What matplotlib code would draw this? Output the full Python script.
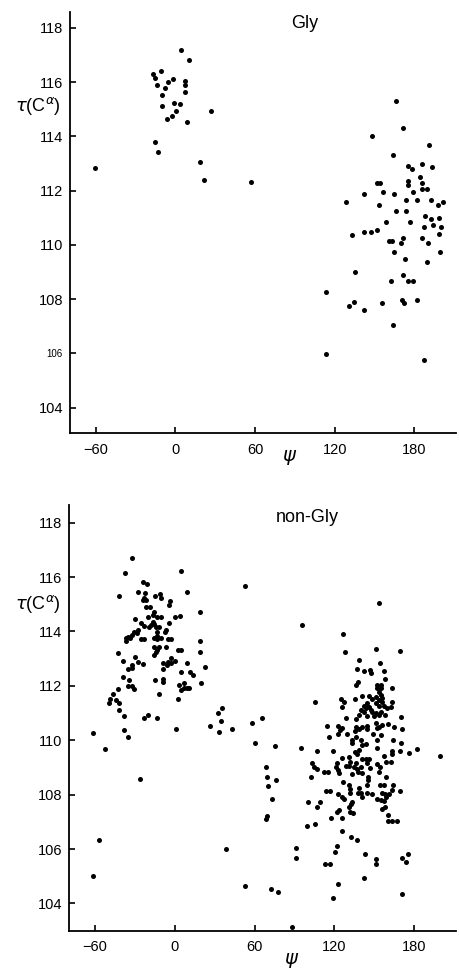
import matplotlib
matplotlib.use("Agg")
import matplotlib.pyplot as plt

plt.rcParams['font.family'] = ['Liberation Sans', 'DejaVu Sans']

# ---------------- data ----------------
psi_ticks = [-60, 0, 60, 120, 180]
tau_ticks = [104, 106, 108, 110, 112, 114, 116, 118]

gly = [(-60.7,112.85),(4.3,117.2),(10.5,116.82),(-16.6,116.3),(-15.3,116.15),(-10.5,116.42),(-14.0,115.9),
       (-7.8,115.8),(-5.7,115.99),(-1.5,116.13),(7.3,116.03),(7.3,115.9),(7.5,115.64),(-10.3,115.51),(-9.8,115.14),
       (-1.0,115.24),(3.5,115.21),(0.3,114.95),(-2.7,114.75),(-6.5,114.64),(9.0,114.55),(26.9,114.93),(-15.1,113.81),
       (-13.3,113.44),(18.6,113.05),(21.4,112.40),
       (56.8,112.32),(166.0,115.31),(171.5,114.31),(148.1,114.01),(191.0,113.70),(163.9,113.31),(175.0,112.92),
       (178.2,112.80),(186.0,113.0),(193.3,112.89),(151.6,112.30),(154.4,112.30),(175.0,112.36),(175.0,112.21),
       (184.3,112.50),(186.0,112.27),(186.0,112.06),(189.5,112.06),(179.2,111.95),(156.2,111.96),(142.1,111.86),
       (164.9,111.86),(128.8,111.57),(153.2,111.48),(173.7,111.66),(181.8,111.66),(192.8,111.66),(197.8,111.48),
       (201.8,111.57),(166.4,111.26),(173.7,111.26),(187.8,111.08),(192.3,110.95),(198.8,110.98),(177.0,110.85),
       (158.4,110.85),(187.3,110.66),(194.3,110.74),(199.8,110.66),(198.3,110.39),(133.1,110.36),(141.9,110.48),
       (147.6,110.46),(151.9,110.56),
       (160.7,110.15),(163.4,110.15),(169.7,110.07),(171.7,110.24),(186.0,110.24),(190.5,110.07),(199.3,109.74),
       (164.5,109.75),(172.7,109.48),(189.7,109.37),(135.5,108.99),(162.7,108.65),(171.7,108.88),(175.5,108.66),
       (178.8,108.66),(113.7,108.28),(131.0,107.75),(134.6,107.89),(142.1,107.58),(155.6,107.85),(170.5,107.97),
       (172.4,107.86),(182.2,107.95),(164.2,107.05),(113.7,105.98),(187.0,105.76)]
gly_psi = [p for p, t in gly]
gly_tau = [t for p, t in gly]

nongly = [
    (-32.5,116.71),(-37.5,116.14),(4.6,116.23),(-24.2,115.83),(-20.9,115.75),(-41.7,115.32),(-27.5,115.44),
    (-22.4,115.43),(9.5,115.45),(-14.7,115.32),(-11.0,115.37),(-10.4,115.22),(-23.0,115.22),(-21.7,115.16),
    (-24.2,115.16),(-3.5,115.12),(-4.2,114.97),(-21.7,114.91),(-18.5,114.91),(19.1,114.73),(-15.5,114.70),
    (-16.4,114.61),(-20.0,114.54),(-13.4,114.52),(-10.0,114.52),(0.1,114.53),(4.1,114.56),(-30.0,114.45),
    (-25.5,114.32),(-23.0,114.21),(-16.7,114.36),(-17.9,114.24),(-15.5,114.26),(-14.2,114.18),(-19.2,114.18),
    (-4.7,114.32),(-11.7,114.18),(-27.5,114.05),(-30.5,113.97),(-28.5,113.93),(-31.8,113.87),(-7.4,113.97),
    (-6.5,114.05),(-13.4,113.97),(-13.0,113.84),(-35.5,113.81),(-36.7,113.75),(-36.7,113.65),(-33.5,113.75),
    (-25.5,113.72),(-23.0,113.72),(-16.0,113.75),(-13.0,113.72),(-10.0,113.75),(-5.0,113.72),(-2.9,113.72),
    (18.8,113.65),(-15.5,113.42),(-11.7,113.42),(-6.7,113.42),(-14.2,113.23),(-13.0,113.32),(-15.5,113.13),
    (2.6,113.33),(5.0,113.33),(-42.7,113.22),(18.8,113.23),(-30.0,113.06),(-27.5,112.87),(-24.2,112.80),
    (-38.7,112.91),(-31.8,112.77),(-32.5,112.64),(-35.5,112.62),(-2.9,113.01),(0.1,112.91),(-5.0,112.87),
    (-2.9,112.83),(-5.9,112.77),(-8.5,112.83),(-8.5,112.62),(9.1,112.84),(22.8,112.70),(4.6,112.52),
    (11.6,112.52),(14.0,112.40),(-39.3,112.33),(-34.2,112.20),(-35.0,112.01),(-32.5,112.01),(-31.0,111.88),
    (-14.7,112.20),(-8.5,112.25),(-8.5,112.13),(2.8,112.03),(7.1,112.12),(7.1,111.93),(5.0,111.85),
    (9.1,111.91),(10.8,111.91),(19.6,112.12),(-42.5,111.88),(-12.2,111.70),(-46.2,111.72),(-48.5,111.52),
    (-49.8,111.38),(-44.2,111.48),(-41.7,111.38),(2.6,111.50),(-42.3,111.10),(-38.5,110.90),(-23.5,110.83),
    (-20.5,110.92),(-13.4,110.81),(-61.3,110.25),(-38.5,110.39),(1.1,110.41),(35.4,111.20),(32.8,111.01),
    (34.8,110.71),(26.6,110.51),(33.3,110.31),
    (-52.3,109.69),(-35.2,110.11),(-26.5,108.56),(-57.3,106.32),(-61.8,105.02),(38.8,106.01),
    (43.3,110.41),(58.3,110.62),(65.6,110.82),(60.4,109.91),(75.4,109.79),(94.7,109.70),(68.4,109.03),
    (69.1,108.65),(76.1,108.54),(70.3,108.33),(73.3,107.83),(100.4,107.72),(69.1,107.22),(68.4,107.09),
    (99.2,106.85),(91.4,106.03),(91.4,105.68),(52.6,104.63),(72.6,104.52),(77.9,104.41),(87.9,103.12),
    (52.9,115.68),(95.4,114.23),(153.7,115.04),(126.2,113.92),(105.4,111.42),
    (199.2,109.42),(176.0,109.52),(181.8,109.68),(170.9,104.34),(105.4,106.93),
    (127.9,113.23),(151.2,113.34),(169.2,113.27),(138.7,112.94),(154.0,112.83),(136.7,112.63),(142.2,112.56),
    (146.7,112.58),(147.2,112.48),(157.4,112.53),(158.0,112.24),(137.9,112.15),(136.4,112.03),(152.2,112.03),
    (154.7,112.03),(152.2,111.91),(154.7,111.91),(153.4,111.78),(154.7,111.66),(163.4,111.92),(124.9,111.52),
    (127.2,111.42),(125.5,111.21),(135.4,111.52),
    (140.9,111.63),(146.0,111.63),(148.5,111.50),(151.0,111.58),(153.5,111.48),(155.9,111.54),(155.9,111.42),
    (151.4,111.36),(153.5,111.26),(157.2,111.26),(159.7,111.18),(162.2,111.23),(144.7,111.36),(142.2,111.26),
    (143.5,111.18),(146.0,111.23),(147.2,111.11),(148.5,111.05),(151.0,110.99),(153.5,110.92),(154.7,111.05),
    (142.2,111.05),(139.7,111.11),(138.4,110.92),(136.0,110.80),(144.7,110.88),(149.7,110.88),(163.4,111.42),
    (158.4,110.92),(169.7,110.84),
    (128.4,110.83),(114.2,110.52),(122.9,110.52),(125.4,110.45),(123.9,110.38),(136.4,110.50),(138.4,110.40),
    (135.4,110.35),(140.9,110.50),(144.7,110.52),(144.7,110.40),(151.4,110.62),(153.5,110.50),(152.2,110.44),
    (155.9,110.56),(160.4,110.60),(164.7,110.50),(171.0,110.42),(115.9,110.13),(122.4,110.22),(129.2,110.22),
    (133.4,110.01),(136.0,110.13),(139.7,110.01),(148.9,110.22),(154.7,110.19),(152.2,110.01),(164.0,110.01),
    (169.7,109.91),(107.1,109.60),(119.1,109.60),(133.4,109.89),(140.9,109.82),(143.5,109.85),(135.4,109.58),
    (138.4,109.64),(137.2,109.49),(152.2,109.70),(163.4,109.61),(169.2,109.61),(157.2,109.42),(163.0,109.49),
    (125.4,109.34),(130.9,109.39),(140.9,109.30),(143.5,109.30),(146.0,109.30),
    (102.9,109.15),(104.7,109.03),(107.1,108.93),(112.2,108.84),(115.4,108.84),(102.4,108.66),(122.1,109.17),
    (121.4,109.03),(122.9,108.90),(123.4,108.78),(131.5,109.21),(128.4,109.05),(130.9,109.05),
    (134.7,109.03),(137.2,108.93),(139.7,109.00),(137.9,108.84),(140.9,108.81),(133.4,108.76),(136.0,109.15),
    (144.7,109.15),(146.5,108.97),(152.2,109.13),(154.2,109.00),(153.5,108.84),(158.9,109.21),(162.2,109.21),
    (145.4,108.66),(145.0,108.54),(158.9,108.66),(126.7,108.45),(130.9,108.35),(131.5,108.20),(131.5,108.07),
    (138.4,108.23),(139.7,108.07),(140.9,107.90),(137.9,108.05),(113.9,108.14),(116.7,108.14),(122.9,108.02),
    (125.4,107.92),(127.2,107.86),(144.2,108.35),(144.2,108.05),(148.4,108.02),(154.2,108.35),(157.2,108.35),
    (155.9,108.05),(154.7,107.80),(158.0,108.02),(164.0,108.36),(163.0,108.17),(161.0,108.02),(158.9,107.92),
    (169.4,108.14),(151.7,107.84),(108.9,107.74),(106.7,107.53),(133.4,107.74),(132.2,107.65),(130.9,107.55),
    (131.5,107.37),(133.9,107.31),(123.4,107.43),(122.1,107.37),(157.2,107.78),(155.5,107.46),(158.0,107.53),
    (160.4,107.24),(160.4,107.04),(163.4,107.04),(166.7,107.04),(117.6,107.15),(125.4,107.15),(125.9,106.66),
    (132.7,106.43),(137.2,106.33),(122.1,106.12),(120.4,105.90),(142.9,105.82),(151.4,105.64),(151.4,105.44),
    (171.0,105.66),(174.0,105.53),(175.2,105.83),(112.7,105.44),(116.7,105.44),(142.4,104.94),(122.4,104.72),
    (119.1,104.21)]
nongly_psi = [p for p, t in nongly]
nongly_tau = [t for p, t in nongly]

# ---------------- figure ----------------
W, H = 460, 968
fig = plt.figure(figsize=(W / 100, H / 100), dpi=100)
fig.patch.set_facecolor('white')

def px_axes(left, right, top, bottom):
    return fig.add_axes([left / W, 1 - bottom / H, (right - left) / W, (bottom - top) / H])

def style(ax, ylim, title, title_xy, small106=False):
    ax.set_xlim(-79.3, 211.4)
    ax.set_ylim(*ylim)
    for s in ('top', 'right'):
        ax.spines[s].set_visible(False)
    for s in ('left', 'bottom'):
        ax.spines[s].set_linewidth(1.3)
    ax.set_xticks(psi_ticks)
    ax.set_xticklabels(['\u221260', '0', '60', '120', '180'])
    ax.set_yticks(tau_ticks)
    ax.set_yticklabels([str(t) for t in tau_ticks])
    ax.tick_params(direction='in', length=4, width=1.2, labelsize=10.5, pad=5)
    ax.tick_params(axis='x', pad=7)
    if small106:
        for lab in ax.get_yticklabels():
            if lab.get_text() == '106':
                lab.set_fontsize(7)
    ax.patch.set_alpha(0)
    fig.text(title_xy[0] / W, 1 - title_xy[1] / H, title, ha='center', va='center', fontsize=13)

ax1 = px_axes(70, 456, 11.7, 433.3)
ax1.scatter(gly_psi, gly_tau, s=13, c='black', linewidths=0)
style(ax1, (103.05, 118.6), 'Gly', (305, 23), small106=True)

ax2 = px_axes(69.3, 456, 505, 930.7)
ax2.scatter(nongly_psi, nongly_tau, s=13, c='black', linewidths=0)
style(ax2, (103.0, 118.65), 'non-Gly', (307, 518))

for y in (106, 604):
    fig.text(38 / W, 1 - y / H, r'$\tau$(C$^{\alpha}$)', ha='center', va='center', fontsize=13)
for x, y in ((290, 458), (292, 960)):
    fig.text(x / W, 1 - y / H, r'$\psi$', ha='center', va='center', fontsize=14)

fig.savefig('out.png', dpi=100)
